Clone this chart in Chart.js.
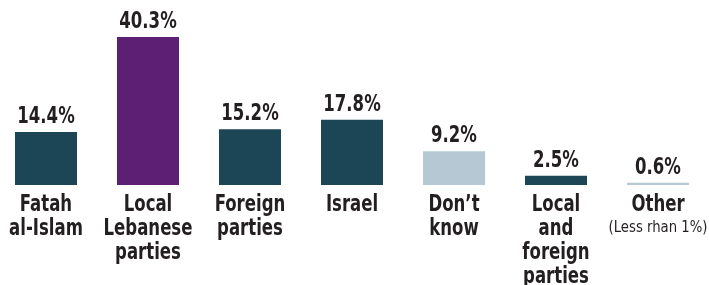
<!DOCTYPE html>
<html>
<head>
<meta charset="utf-8">
<script src="https://cdn.jsdelivr.net/npm/chart.js@4"></script>
<style>
  body { margin: 0; background: #fff; overflow: hidden; }
  #wrap { width: 714px; height: 285px; margin-left: -5px; }
</style>
</head>
<body>
<div id="wrap"><canvas id="chart" width="714" height="285"></canvas></div>
<script>
// chart data
const categories = [
  ["Fatah", "al-Islam"],
  ["Local", "Lebanese", "parties"],
  ["Foreign", "parties"],
  ["Israel"],
  ["Don\u2019t", "know"],
  ["Local", "and", "foreign", "parties"],
  ["Other"]
];
const values = [14.4, 40.3, 15.2, 17.8, 9.2, 2.5, 0.6];
const notes = ["", "", "", "", "", "", "(Less rhan 1%)"];

const barColors = ["#1c4656", "#5d1f74", "#1c4656", "#1c4656", "#b6c8d3", "#1c4656", "#b6c8d3"];
const textColor = "#231f20";
const boldFont = "bold 23px 'DejaVu Sans Condensed', 'Liberation Sans Narrow', sans-serif";
const noteFont = "16px 'DejaVu Sans Condensed', 'Liberation Sans Narrow', sans-serif";

// text squeezed horizontally to look like a condensed face
function narrowText(ctx, text, x, y, squeeze) {
  ctx.save();
  ctx.translate(x, y);
  ctx.scale(squeeze, 1);
  ctx.fillText(text, 0, 0);
  ctx.restore();
}

// draws the value above each bar and the category name below it
const labelPlugin = {
  id: "labels",
  afterDatasetsDraw(chart) {
    const ctx = chart.ctx;
    const meta = chart.getDatasetMeta(0);
    const base = chart.scales.y.getPixelForValue(0);
    ctx.save();
    ctx.fillStyle = textColor;
    ctx.textAlign = "center";
    ctx.textBaseline = "alphabetic";
    meta.data.forEach((bar, i) => {
      ctx.font = boldFont;
      narrowText(ctx, values[i].toFixed(1) + "%", bar.x, bar.y - 9, 0.8);
      categories[i].forEach((line, j) => {
        narrowText(ctx, line, bar.x, base + 26 + j * 24, 0.8);
      });
      if (notes[i]) {
        ctx.font = noteFont;
        narrowText(ctx, notes[i], bar.x, base + 26 + categories[i].length * 24 - 3, 0.92);
      }
    });
    ctx.restore();
  }
};

new Chart(document.getElementById("chart"), {
  type: "bar",
  data: {
    labels: categories,
    datasets: [{
      data: values,
      backgroundColor: barColors,
      barPercentage: 62 / 102,
      categoryPercentage: 1
    }]
  },
  options: {
    responsive: false,
    animation: false,
    layout: { padding: { top: 37, bottom: 100, left: 0, right: 0 } },
    scales: {
      x: { display: false },
      y: { display: false, min: 0, max: 40.3 }
    },
    plugins: {
      legend: { display: false },
      tooltip: { enabled: false }
    }
  },
  plugins: [labelPlugin]
});
</script>
</body>
</html>
